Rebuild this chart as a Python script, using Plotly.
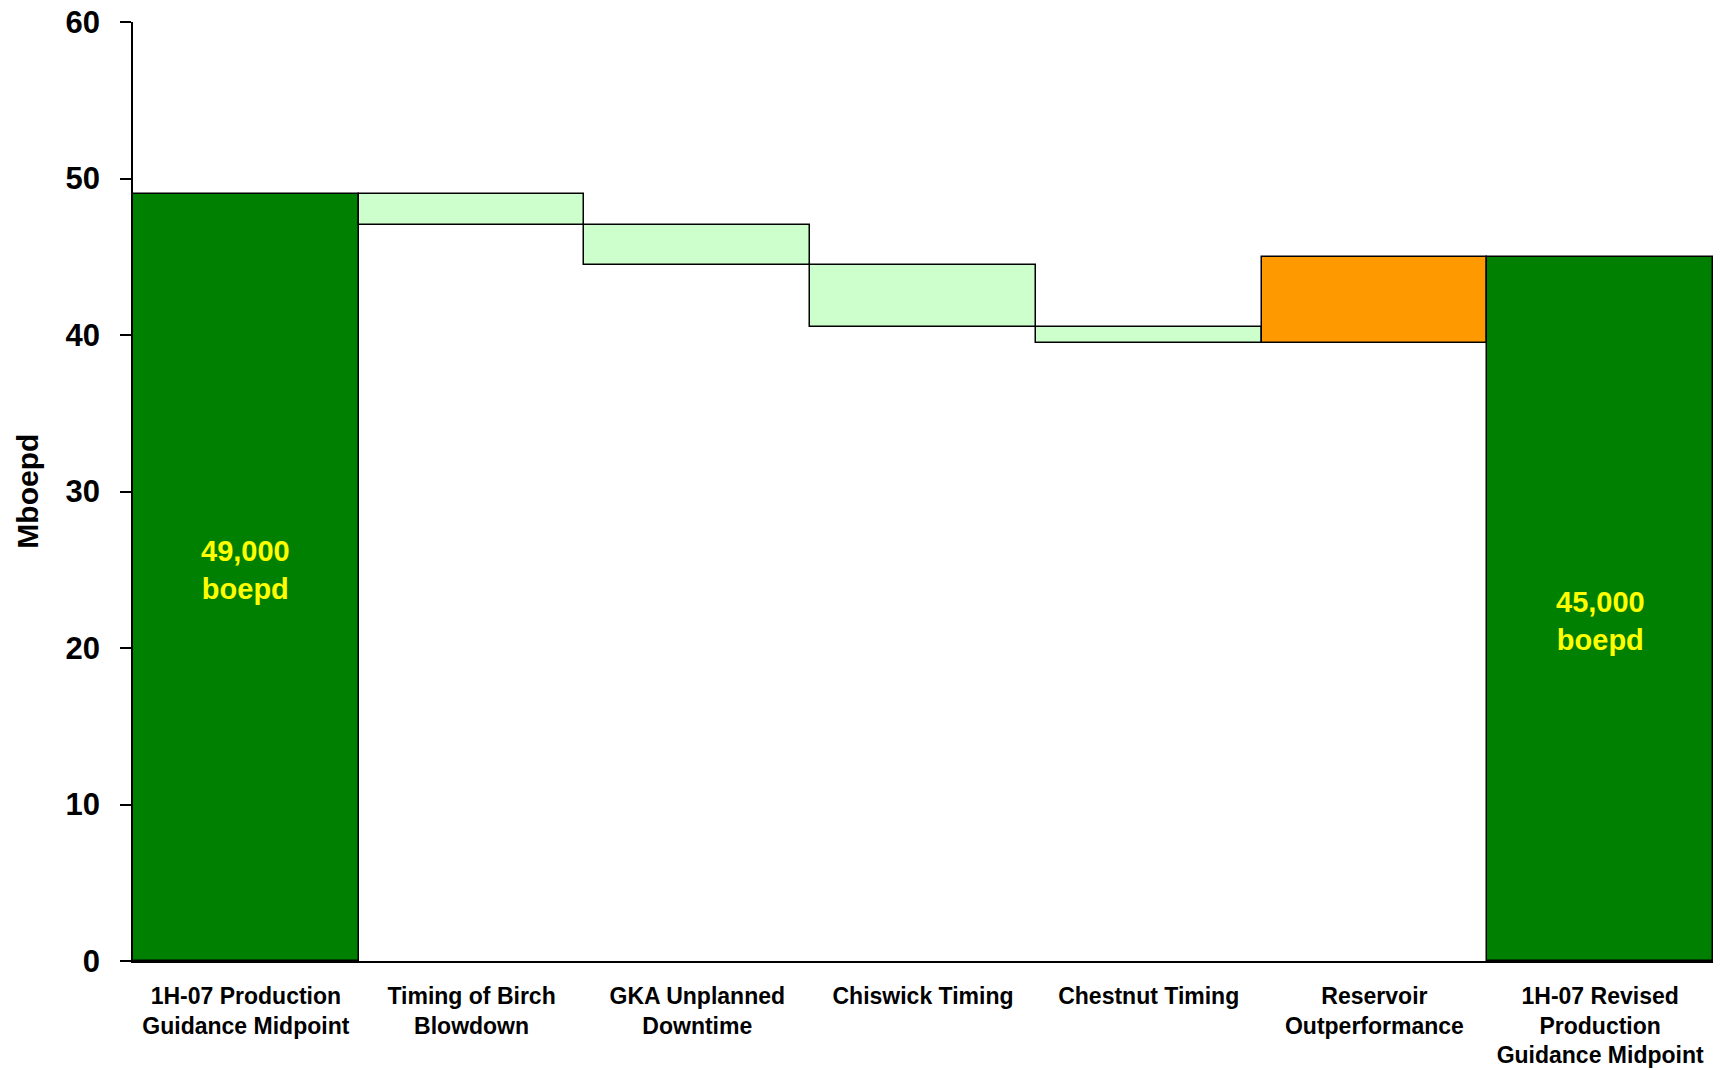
import plotly.graph_objects as go

# Production bridge, Mboepd
categories = [
    "1H-07 Production<br>Guidance Midpoint",
    "Timing of Birch<br>Blowdown",
    "GKA Unplanned<br>Downtime",
    "Chiswick Timing",
    "Chestnut Timing",
    "Reservoir<br>Outperformance",
    "1H-07 Revised<br>Production<br>Guidance Midpoint",
]
start_value = 49.0
changes = [-2.0, -2.5, -4.0, -1.0, 5.5]
end_value = 45.0
total_labels = ["49,000<br>boepd", "45,000<br>boepd"]
y_ticks = [0, 10, 20, 30, 40, 50, 60]

DARK_GREEN = "#008000"
LIGHT_GREEN = "#CCFFCC"
ORANGE = "#FF9900"

# floating bars: base + height for each step of the bridge
bases, heights, colors = [0.0], [start_value], [DARK_GREEN]
running = start_value
for c in changes:
    new = running + c
    bases.append(min(running, new))
    heights.append(abs(c))
    colors.append(LIGHT_GREEN if c < 0 else ORANGE)
    running = new
bases.append(0.0)
heights.append(end_value)
colors.append(DARK_GREEN)

fig = go.Figure(
    go.Bar(
        x=categories,
        y=heights,
        base=bases,
        marker=dict(color=colors, line=dict(color="black", width=1.5)),
        width=1.0,
        hoverinfo="skip",
    )
)

FONT = "Liberation Sans, Arial, sans-serif"

# totals written inside the green bars
label_y = [25.0, 21.7]
for idx, txt, yy in zip([0, len(categories) - 1], total_labels, label_y):
    fig.add_annotation(
        x=categories[idx], y=yy, xref="x", yref="y",
        text=f"<b>{txt}</b>", showarrow=False,
        font=dict(family=FONT, size=29, color="#FFFF00"),
        xanchor="center", yanchor="middle",
    )

# rotated axis title
fig.add_annotation(
    x=-0.067, y=0.5, xref="paper", yref="paper",
    text="<b>Mboepd</b>", textangle=-90, showarrow=False,
    font=dict(family=FONT, size=30, color="black"),
    xanchor="center", yanchor="middle",
)

fig.update_layout(
    width=1722, height=1070,
    margin=dict(l=133, r=9, t=22, b=109),
    paper_bgcolor="white", plot_bgcolor="white",
    showlegend=False,
    bargap=0,
    font=dict(family=FONT, color="black"),
    xaxis=dict(
        type="category", automargin=False,
        showgrid=False, zeroline=False,
        showline=True, linecolor="black", linewidth=2,
        ticks="", ticklabelstandoff=13,
        tickfont=dict(family=FONT, size=23, color="black", weight="bold"),
        range=[-0.5, len(categories) - 0.5],
    ),
    yaxis=dict(
        range=[0, 60], tickvals=y_ticks, automargin=False,
        showgrid=False, zeroline=False,
        showline=True, linecolor="black", linewidth=1.5,
        ticks="outside", ticklen=11, tickwidth=1.5, tickcolor="black",
        ticklabelstandoff=14,
        tickfont=dict(family=FONT, size=31, color="black", weight="bold"),
    ),
)

fig.write_html("out.html")
